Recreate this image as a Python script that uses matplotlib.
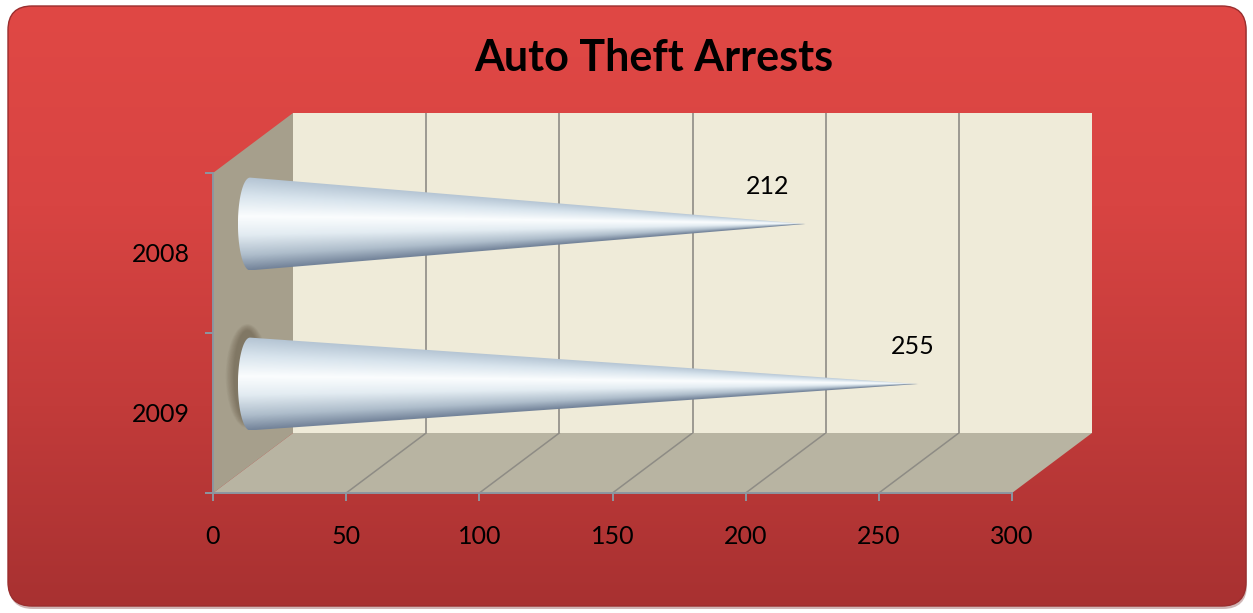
import numpy as np
import matplotlib
matplotlib.use('Agg')
import matplotlib.pyplot as plt
from matplotlib.patches import FancyBboxPatch, Polygon, PathPatch, Ellipse
from matplotlib.path import Path
from matplotlib.colors import LinearSegmentedColormap

# data
years = ['2008', '2009']
arrests = [212, 255]
x_ticks = [0, 50, 100, 150, 200, 250, 300]
label_dx = [-38, -5]  # label nudges (px), as placed in the original

plt.rcParams['font.family'] = ['Lato', 'DejaVu Sans']

W, H, DPI = 1253, 613, 100
fig = plt.figure(figsize=(W / DPI, H / DPI), dpi=DPI, facecolor='white')


def box(left, top, right, bottom):
    return [left / W, 1 - bottom / H, (right - left) / W, (bottom - top) / H]


# back wall (px) and depth offset of the front plane
BL, BT, BR, BB = 293, 113, 1092, 433
DX, DY = -80, 60

# red rounded background
ax_bg = fig.add_axes([0, 0, 1, 1])
ax_bg.axis('off')
shadow = FancyBboxPatch((9, 8), 1238, 601, boxstyle='round,pad=0,rounding_size=24',
                        fc='#7a3030', ec='none', alpha=0.35)
ax_bg.add_patch(shadow)
frame = FancyBboxPatch((8, 6), 1238, 600, boxstyle='round,pad=0,rounding_size=24',
                       fc='none', ec='#9a2e2e', lw=1.0, zorder=2)
ax_bg.add_patch(frame)
red_cmap = LinearSegmentedColormap.from_list('red', ['#e04845', '#d84442', '#c23b3a', '#a83131'])
bg = ax_bg.imshow(np.linspace(0, 1, 256)[:, None], cmap=red_cmap, extent=(8, 1246, 606, 6),
                  aspect='auto', zorder=1)
bg.set_clip_path(frame)
ax_bg.set_xlim(0, W)
ax_bg.set_ylim(H, 0)

# side wall and floor
ax_bg.add_patch(Polygon([(BL + DX, BT + DY), (BL, BT), (BL, BB), (BL + DX, BB + DY)],
                        closed=True, fc='#a69f8c', ec='none', zorder=3))
ax_bg.add_patch(Polygon([(BL + DX, BB + DY), (BR + DX, BB + DY), (BR, BB), (BL, BB)],
                        closed=True, fc='#b8b4a2', ec='none', zorder=3))

# back wall with gridlines
ax_back = fig.add_axes(box(BL, BT, BR, BB))
ax_back.set_facecolor('#efebd9')
ax_back.set_xlim(0, 300)
ax_back.set_ylim(0, 1)
ax_back.set_xticks([])
ax_back.set_yticks([])
for s in ax_back.spines.values():
    s.set_visible(False)
for t in x_ticks[1:-1]:
    ax_back.axvline(t, color='#8e8c85', lw=1.2)

# front plane axes: value axis and category axis
ax = fig.add_axes(box(BL + DX, BT + DY, BR + DX, BB + DY))
ax.set_facecolor('none')
ax.set_xlim(0, 300)
ax.set_ylim(2, 0)
for side in ['top', 'right']:
    ax.spines[side].set_visible(False)
for side in ['left', 'bottom']:
    ax.spines[side].set_color('#8c96a0')
    ax.spines[side].set_linewidth(1.4)
ax.set_xticks(x_ticks)
ax.set_xticklabels([str(t) for t in x_ticks], fontsize=18)
ax.set_yticks([0, 1, 2])
ax.set_yticklabels([])
ax.set_yticks([0.5, 1.5], minor=True)
ax.set_yticklabels(years, minor=True, fontsize=18)
ax.tick_params(axis='both', which='major', length=6, width=1.4, color='#8c96a0')
ax.tick_params(axis='x', pad=17)
ax.tick_params(axis='y', which='minor', length=0, pad=17)

# floor lines from front ticks to back gridlines
inv = ax_bg.transData.inverted()
for t in x_ticks[1:-1]:
    p1 = inv.transform(ax.transData.transform((t, 2)))
    p2 = inv.transform(ax_back.transData.transform((t, 0)))
    ax_bg.plot([p1[0], p2[0]], [p1[1], p2[1]], color='#8e8c85', lw=1.1, zorder=4)

# cones
ax_c = fig.add_axes(box(250 - 10 * 2.62, 144, 1036, 464))
ax_c.set_facecolor('none')
ax_c.axis('off')
cone_cmap = LinearSegmentedColormap.from_list(
    'cone', [(0.0, '#b4c4d3'), (0.2, '#d8e4ed'), (0.42, '#fbfdfe'), (0.62, '#e3ecf2'),
             (0.84, '#aebdcb'), (1.0, '#74849a')])
h = 0.29
a = 4.6
for i, (yr, v) in enumerate(zip(years, arrests)):
    yc = i + 0.5
    if i == len(years) - 1:
        # soft shadow on the side wall behind the lower cone
        for k in range(12):
            ax_c.add_patch(Ellipse((-1.0, yc - 0.05), 2 * a * (1.8 - 0.06 * k),
                                   2 * h * (1.12 - 0.012 * k),
                                   fc='#4a3d2a', ec='none', alpha=0.035, zorder=1))
    th = np.linspace(np.pi / 2, 3 * np.pi / 2, 60)
    verts = [(0, yc - h), (v, yc), (0, yc + h)] + list(zip(a * np.cos(th), yc + h * np.sin(th)))
    verts.append((0, yc - h))
    cone = PathPatch(Path(verts), fc='none', ec='none', zorder=2)
    ax_c.add_patch(cone)
    xs = np.linspace(-a, v, 600)
    ys = np.linspace(yc - h, yc + h, 240)
    X, Y = np.meshgrid(xs, ys)
    half = h * np.clip(1 - np.clip(X, 0, None) / v, 0.003, 1)
    tt = np.clip((Y - yc) / half, -1, 1)
    img = cone_cmap((tt + 1) / 2)
    im = ax_c.imshow(img, extent=(-a, v, yc - h, yc + h), origin='lower', aspect='auto',
                     interpolation='bilinear', zorder=2)
    im.set_clip_path(cone)
    ax_c.annotate(str(v), (v, yc), xytext=(label_dx[i], 37), textcoords='offset pixels',
                  ha='center', va='center', fontsize=18)
ax_c.set_xlim(-10, 300)
ax_c.set_ylim(2, 0)

fig.text(654 / W, 1 - 58 / H, 'Auto Theft Arrests', ha='center', va='center',
         fontsize=31, fontweight='bold')

fig.savefig('out.png', dpi=DPI)
